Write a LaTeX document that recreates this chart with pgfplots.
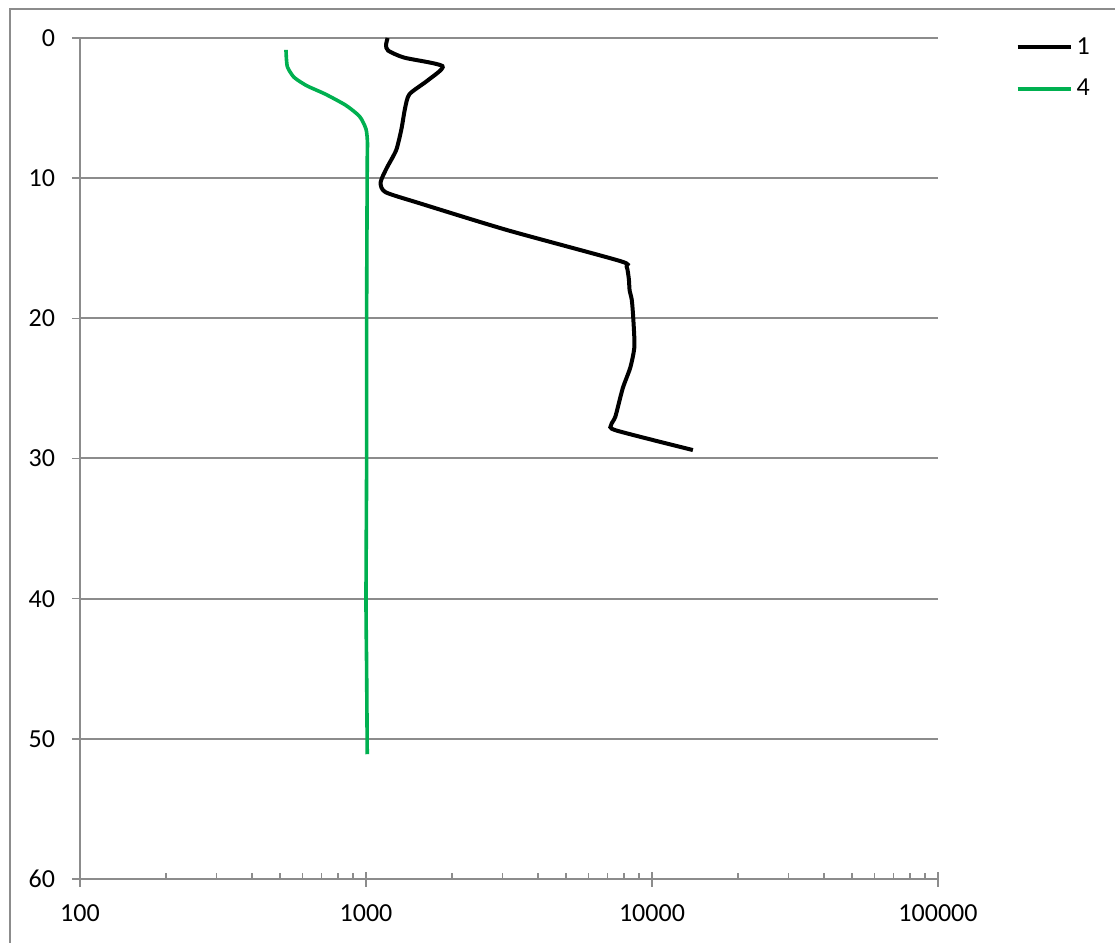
\documentclass[border=0pt]{standalone}
\usepackage{fontspec}
\setmainfont{Carlito}
\usepackage{pgfplots}
\pgfplotsset{compat=1.18}

\definecolor{axgray}{RGB}{140,140,140}
\definecolor{sgreen}{RGB}{0,176,80}

% depth profiles: value (log scale) versus depth
\pgfplotstableread{
val depth
1190 0
1175 0.5
1195 0.9
1360 1.4
1850 2.0
1650 3.0
1420 4.0
1370 5.0
1330 6.5
1275 8.0
1180 9.3
1125 10.3
1170 11.0
1545 11.8
3110 13.7
7700 15.9
8150 16.3
8300 17.2
8350 18.0
8500 18.7
8600 20.0
8680 22.0
8400 23.5
7900 25.0
7450 27.0
7200 27.6
7500 28.0
13900 29.4
}\serone

\pgfplotstableread{
val depth
525 0.85
527 1.5
532 2.1
560 2.8
620 3.4
720 4.0
850 4.8
950 5.6
1000 6.5
1012 7.5
1010 9.0
1005 20.0
1005 30.0
1000 40.0
1005 45.0
1010 51.1
}\serfour

\begin{document}
\begin{tikzpicture}
\begin{axis}[
  name=ax,
  scale only axis,
  width=429pt, height=420.5pt,
  xmode=log, log basis x=10,
  xmin=100, xmax=100000,
  ymin=0, ymax=60,
  y dir=reverse,
  axis x line*=bottom,
  axis y line*=left,
  axis line style={axgray, line width=1pt},
  every tick/.style={axgray, line width=0.8pt},
  xtick={100,1000,10000,100000},
  xticklabels={100,1000,10000,100000},
  minor xtick={200,300,400,500,600,700,800,900,
               2000,3000,4000,5000,6000,7000,8000,9000,
               20000,30000,40000,50000,60000,70000,80000,90000},
  tick align=inside,
  major tick length=3.5pt,
  minor tick length=3pt,
  extra x ticks={100,1000,10000,100000},
  extra x tick labels={},
  extra x tick style={tick align=outside, major tick length=4pt, grid=none},
  ytick={0,10,...,60},
  extra y ticks={0,10,...,60},
  extra y tick labels={},
  extra y tick style={tick align=outside, major tick length=4pt, grid=none},
  ymajorgrids,
  major grid style={axgray, line width=1pt},
  font=\fontsize{13}{15}\selectfont,
  /pgf/number format/assume math mode=true,
  xticklabel style={yshift=-9.5pt},
  yticklabel style={xshift=-9pt},
  legend style={at={(1.09,1.006)}, anchor=north west, draw=none, fill=none,
    inner sep=0pt, row sep=7pt, font=\fontsize{13}{15}\selectfont},
  legend cell align=left,
  legend image code/.code={\draw[#1] (0pt,0pt) -- (26.5pt,0pt);},
  clip=false,
]
\addplot[black, line width=2pt, smooth, tension=0.4] table[x=val, y=depth] {\serone};
\addlegendentry{1}
\addplot[sgreen, line width=1.8pt, smooth, tension=0.4] table[x=val, y=depth] {\serfour};
\addlegendentry{4}
\end{axis}
\pgfresetboundingbox
\path[use as bounding box] ([xshift=-40pt, yshift=-32pt]ax.south west) rectangle ([xshift=88.5pt, yshift=19pt]ax.north east);
\draw[axgray, line width=0.75pt] ([xshift=-35pt, yshift=-60pt]ax.south west) |- ([xshift=120pt, yshift=14.5pt]ax.north east);
\end{tikzpicture}
\end{document}
